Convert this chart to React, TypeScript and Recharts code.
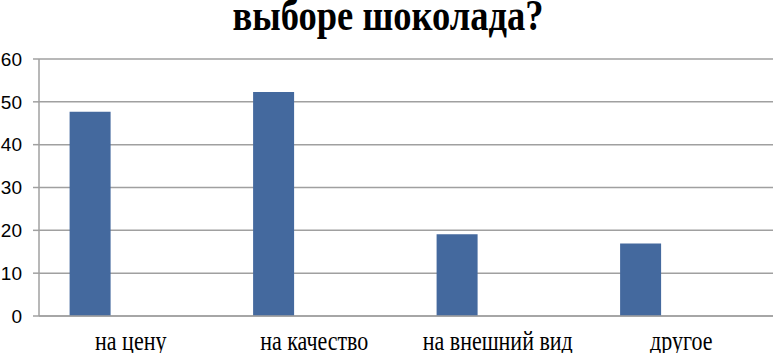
import React from "react";
import { Bar, BarChart, CartesianGrid, XAxis, YAxis } from "recharts";

const categories = ["на цену", "на качество", "на внешний вид", "другое"];
const answers = [47.7, 52.3, 19.1, 16.9];
// two empty series, like in the original sheet, so the bars sit left in each group
const emptyA = [null, null, null, null];
const emptyB = [null, null, null, null];
const yTicks = [0, 10, 20, 30, 40, 50, 60];

const title = "выборе шоколада?";

const data = categories.map((name, i) => ({
  name,
  answers: answers[i],
  emptyA: emptyA[i],
  emptyB: emptyB[i],
}));

const serif = "Liberation Serif";

const CategoryTick = (props: any) => {
  const { x, y, payload } = props;
  return (
    <text
      transform={`translate(${x},${y + 34}) scale(1,1.2)`}
      textAnchor="middle"
      fontFamily={serif}
      fontSize={22}
      fill="#000"
    >
      {payload.value}
    </text>
  );
};

const App = () => {
  return (
    <div style={{ position: "absolute", left: 0, top: 0, width: 773, height: 353 }}>
      <svg
        width={773}
        height={60}
        style={{ position: "absolute", left: 0, top: 0, pointerEvents: "none" }}
      >
        <text
          transform="translate(388,30) scale(0.83,1)"
          textAnchor="middle"
          fontFamily={serif}
          fontWeight="bold"
          fontSize={44}
          fill="#000"
        >
          {title}
        </text>
      </svg>
      <BarChart
        width={773}
        height={353}
        data={data}
        margin={{ top: 59, right: 0, left: 0, bottom: 0 }}
        barGap={0}
        barCategoryGap={30.6}
      >
        <CartesianGrid vertical={false} stroke="#a0a0a0" strokeWidth={1.5} />
        <XAxis
          dataKey="name"
          height={37}
          tickLine={false}
          tickSize={0}
          tickMargin={0}
          axisLine={{ stroke: "#a0a0a0", strokeWidth: 1.5 }}
          tick={<CategoryTick />}
          interval={0}
        />
        <YAxis
          width={39}
          domain={[0, 60]}
          ticks={yTicks}
          tickSize={6}
          tickMargin={11}
          axisLine={{ stroke: "#a0a0a0", strokeWidth: 1.5 }}
          tickLine={{ stroke: "#a0a0a0", strokeWidth: 1.5 }}
          tick={{
            fill: "#000",
            fontSize: 19,
            fontFamily: "Liberation Sans",
          }}
        />
        <Bar dataKey="answers" fill="#44699e" isAnimationActive={false} />
        <Bar dataKey="emptyA" fill="#aa4643" isAnimationActive={false} />
        <Bar dataKey="emptyB" fill="#89a54e" isAnimationActive={false} />
      </BarChart>
    </div>
  );
};

export default App;
